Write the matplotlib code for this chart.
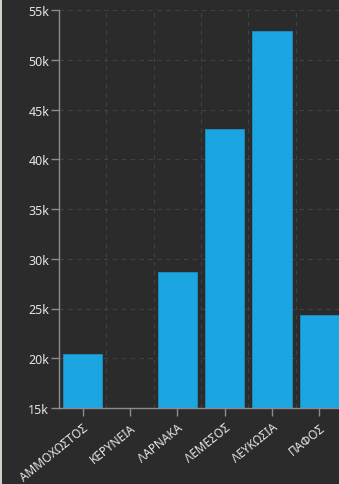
import matplotlib
matplotlib.use("Agg")
import matplotlib.pyplot as plt
from matplotlib.patches import Rectangle
from matplotlib.ticker import FuncFormatter

# districts and values
districts = ["ΑΜΜΟΧΩΣΤΟΣ", "ΚΕΡΥΝΕΙΑ", "ΛΑΡΝΑΚΑ", "ΛΕΜΕΣΟΣ", "ΛΕΥΚΩΣΙΑ", "ΠΑΦΟΣ"]
values = [20400, 12000, 28700, 43000, 52900, 24300]
y_ticks = [15000, 20000, 25000, 30000, 35000, 40000, 45000, 50000, 55000]

bg = "#2b2b2b"
bar_color = "#1ba6e2"
axis_color = "#8c8c8c"
text_color = "#e6e6e6"

plt.rcParams['font.family'] = ['Noto Sans', 'DejaVu Sans']

fig = plt.figure(figsize=(3.39, 4.85), dpi=100, facecolor=bg)
W, H = 339, 485
# axes runs off the right edge like in the original
ax = fig.add_axes([59 / W, (H - 409) / H, 284 / W, 398 / H], facecolor=bg)

x = range(len(districts))
ax.bar(x, values, width=0.83, color=bar_color, edgecolor="#1890c4", linewidth=0.6, zorder=3)

ax.set_xlim(-0.5, len(districts) - 0.5)
ax.set_ylim(15000, 55000)
ax.set_yticks(y_ticks)
ax.yaxis.set_major_formatter(FuncFormatter(lambda v, p: "%dk" % (v / 1000)))
ax.set_xticks(list(x))
ax.set_xticklabels(districts, rotation=39, ha="right", rotation_mode="anchor")

# dashed grid: horizontal at ticks, vertical between categories
for yv in y_ticks[1:]:
    ax.axhline(yv, color="#414141", linestyle=(0, (4, 4)), linewidth=0.8, zorder=1)
for i in range(len(districts) - 1):
    ax.axvline(i + 0.5, color="#414141", linestyle=(0, (4, 4)), linewidth=0.8, zorder=1)

for s in ["top", "right"]:
    ax.spines[s].set_visible(False)
for s in ["left", "bottom"]:
    ax.spines[s].set_color(axis_color)
    ax.spines[s].set_linewidth(1.0)
    ax.spines[s].set_zorder(4)

ax.tick_params(axis="both", colors=axis_color, length=6, width=1.0, labelcolor=text_color,
               labelsize=9, pad=1)
ax.tick_params(axis="x", pad=3, labelsize=8.5)

# light strip at the left edge of the screenshot
fig.patches.append(Rectangle((0, 0), 1.5 / W, 1, transform=fig.transFigure,
                             facecolor="#d4d0c8", edgecolor="none"))

fig.savefig("out.png", dpi=100, facecolor=bg)
